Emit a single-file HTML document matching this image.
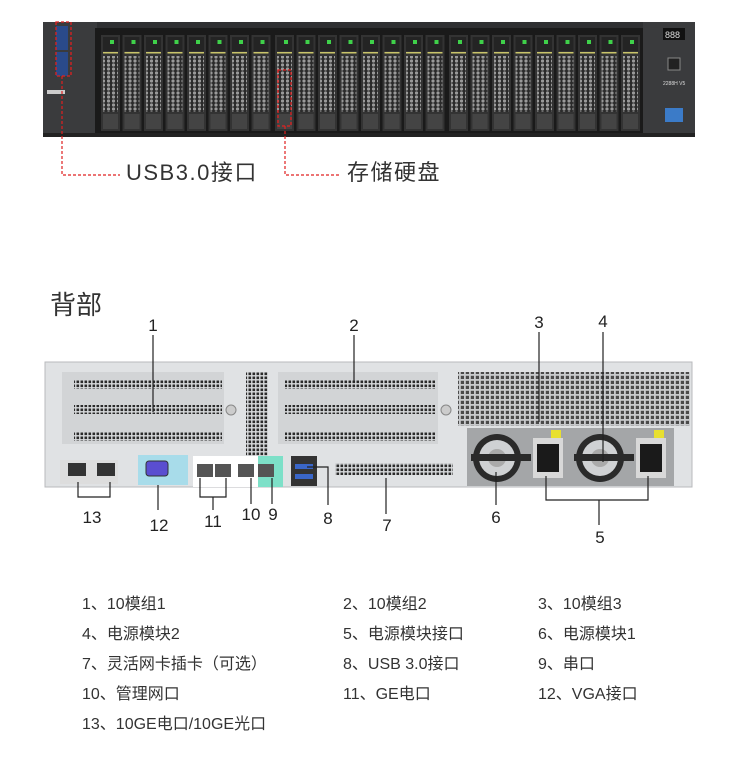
<!DOCTYPE html>
<html><head><meta charset="utf-8"><style>
html,body{margin:0;padding:0;background:#fff;width:750px;height:765px;overflow:hidden}
svg{display:block}
text{font-family:"Liberation Sans","Noto Sans CJK SC",sans-serif}
</style></head><body>
<svg width="750" height="765" viewBox="0 0 750 765" xmlns="http://www.w3.org/2000/svg">
<defs>
<pattern id="hex" width="5" height="4" patternUnits="userSpaceOnUse">
<rect width="5" height="4" fill="#2a2a2a"/><circle cx="2.5" cy="2" r="1.6" fill="#9a9a9a"/>
</pattern>
<pattern id="vent" width="4" height="4" patternUnits="userSpaceOnUse">
<rect width="4" height="4" fill="#d8dadc"/><rect x="0.5" y="0.5" width="2.6" height="2.6" fill="#2a2a2a"/>
</pattern>
<pattern id="grid" width="5" height="5" patternUnits="userSpaceOnUse">
<rect width="5" height="5" fill="#c8cacc"/><rect x="0.8" y="0.8" width="3.2" height="3.2" fill="#4a4a4a"/>
</pattern>
<g id="d">
<rect x="0" y="0" width="19" height="96" fill="#333"/>
<rect x="2" y="2" width="15" height="14" fill="#242424"/>
<rect x="9" y="5" width="4" height="4" fill="#3fd14a"/>
<rect x="2" y="17" width="15" height="1.5" fill="#c9c46a"/>
<rect x="2" y="21" width="15" height="56" fill="url(#hex)"/>
<rect x="2" y="79" width="15" height="15" fill="#444"/>
</g>
<g id="psu">
<rect x="0" y="0" width="104" height="58" fill="#a4a6a8"/>
<circle cx="30" cy="30" r="24" fill="#2a2a2a"/>
<circle cx="30" cy="30" r="18" fill="#cfd1d3"/>
<circle cx="30" cy="30" r="9" fill="#aaa"/>
<rect x="4" y="26" width="60" height="7" fill="#2a2a2a"/>
<rect x="66" y="10" width="30" height="40" fill="#d8d8d8"/>
<rect x="70" y="16" width="22" height="28" fill="#1a1a1a"/>
<rect x="84" y="2" width="10" height="8" fill="#e8e030"/>
</g>
</defs>

<rect x="43" y="22" width="652" height="115" fill="#2f3032"/>
<rect x="43" y="22" width="54" height="115" fill="#3a3b3d"/>
<rect x="56" y="26" width="12" height="24" fill="#2a4a8a"/>
<rect x="56" y="52" width="12" height="24" fill="#2a4a8a"/>
<rect x="47" y="90" width="18" height="4" fill="#ccc"/>
<rect x="95" y="28" width="552" height="106" fill="#1a1a1a"/>
<rect x="643" y="22" width="52" height="115" fill="#3a3b3d"/>
<rect x="663" y="28" width="22" height="12" fill="#111"/>
<text x="665" y="38" font-size="9" fill="#ddd">888</text>
<rect x="668" y="58" width="12" height="12" fill="#222" stroke="#888"/>
<rect x="665" y="108" width="18" height="14" fill="#3b7bc8"/>
<text x="663" y="85" font-size="5" fill="#ddd">2288H V5</text>
<rect x="43" y="133" width="652" height="4" fill="#222"/>
<g>
<use href="#d" x="101" y="35"/><use href="#d" x="122.5" y="35"/><use href="#d" x="144" y="35"/><use href="#d" x="165.5" y="35"/><use href="#d" x="187" y="35"/><use href="#d" x="208.5" y="35"/><use href="#d" x="230" y="35"/><use href="#d" x="251.5" y="35"/>
<use href="#d" x="275" y="35"/><use href="#d" x="296.5" y="35"/><use href="#d" x="318" y="35"/><use href="#d" x="339.5" y="35"/><use href="#d" x="361" y="35"/><use href="#d" x="382.5" y="35"/><use href="#d" x="404" y="35"/><use href="#d" x="425.5" y="35"/>
<use href="#d" x="449" y="35"/><use href="#d" x="470.5" y="35"/><use href="#d" x="492" y="35"/><use href="#d" x="513.5" y="35"/><use href="#d" x="535" y="35"/><use href="#d" x="556.5" y="35"/><use href="#d" x="578" y="35"/><use href="#d" x="599.5" y="35"/><use href="#d" x="621" y="35"/>
</g>
<rect x="56" y="22" width="15" height="54" fill="none" stroke="#e02020" stroke-width="1.3" stroke-dasharray="3,2"/>
<polyline points="62,76 62,175 120,175" fill="none" stroke="#e02020" stroke-width="1.2" stroke-dasharray="3,2"/>
<rect x="278" y="70" width="13" height="56" fill="none" stroke="#e02020" stroke-width="1.3" stroke-dasharray="3,2"/>
<polyline points="285,126 285,175 340,175" fill="none" stroke="#e02020" stroke-width="1.2" stroke-dasharray="3,2"/>
<text x="126" y="180" font-size="22" fill="#333" letter-spacing="1.5">USB3.0接口</text>
<text x="347" y="180" font-size="22" fill="#333" letter-spacing="1.5">存储硬盘</text>

<text x="50" y="314" font-size="26" fill="#333">背部</text>

<rect x="45" y="362" width="647" height="125" fill="#e0e2e4" stroke="#b8babc"/>
<rect x="62" y="372" width="162" height="72" fill="#d2d4d6"/>
<rect x="74" y="380" width="148" height="9" fill="url(#vent)"/>
<rect x="74" y="405" width="148" height="9" fill="url(#vent)"/>
<rect x="74" y="432" width="148" height="9" fill="url(#vent)"/>
<rect x="246" y="372" width="22" height="85" fill="url(#vent)"/>
<rect x="278" y="372" width="160" height="72" fill="#d2d4d6"/>
<rect x="285" y="380" width="150" height="9" fill="url(#vent)"/>
<rect x="285" y="405" width="150" height="9" fill="url(#vent)"/>
<rect x="285" y="432" width="150" height="9" fill="url(#vent)"/>
<circle cx="231" cy="410" r="5" fill="#ccc" stroke="#888"/>
<circle cx="446" cy="410" r="5" fill="#ccc" stroke="#888"/>
<rect x="458" y="372" width="232" height="54" fill="url(#grid)"/>
<use href="#psu" x="467" y="428"/>
<use href="#psu" x="570" y="428"/>
<rect x="60" y="460" width="58" height="24" fill="#ddd"/>
<rect x="68" y="463" width="18" height="13" fill="#333"/><rect x="97" y="463" width="18" height="13" fill="#333"/>
<rect x="138" y="455" width="50" height="30" fill="#a8dcea"/>
<rect x="146" y="461" width="22" height="15" rx="3" fill="#5a4ed0" stroke="#333"/>
<rect x="193" y="456" width="90" height="31" fill="#fff"/>
<rect x="258" y="456" width="25" height="31" fill="#7de0c8"/>
<rect x="197" y="464" width="16" height="13" fill="#555"/><rect x="215" y="464" width="16" height="13" fill="#555"/><rect x="238" y="464" width="16" height="13" fill="#555"/><rect x="258" y="464" width="16" height="13" fill="#555"/>
<rect x="291" y="456" width="26" height="30" fill="#333"/>
<rect x="295" y="464" width="18" height="5" fill="#3a66c8"/><rect x="295" y="474" width="18" height="5" fill="#3a66c8"/>
<rect x="335" y="463" width="118" height="12" fill="url(#vent)"/>

<g stroke="#222" stroke-width="1.2" fill="none">
<line x1="153" y1="335" x2="153" y2="412"/>
<line x1="354" y1="335" x2="354" y2="382"/>
<line x1="539" y1="332" x2="539" y2="422"/>
<line x1="603" y1="332" x2="603" y2="462"/>
<polyline points="78,482 78,497 110,497 110,482"/>
<line x1="158" y1="485" x2="158" y2="510"/>
<polyline points="200,478 200,497 226,497 226,478"/>
<line x1="213" y1="497" x2="213" y2="510"/>
<line x1="251" y1="478" x2="251" y2="504"/>
<line x1="272" y1="478" x2="272" y2="504"/>
<polyline points="307,467 328,467 328,505"/>
<line x1="386" y1="478" x2="386" y2="514"/>
<line x1="496" y1="472" x2="496" y2="505"/>
<polyline points="546,476 546,500 648,500 648,476"/>
<line x1="599" y1="500" x2="599" y2="525"/>
</g>
<g font-size="17" fill="#222" text-anchor="middle">
<text x="153" y="331">1</text><text x="354" y="331">2</text><text x="539" y="328">3</text><text x="603" y="327">4</text>
<text x="92" y="523">13</text><text x="159" y="531">12</text><text x="213" y="527">11</text><text x="251" y="520">10</text><text x="273" y="520">9</text><text x="328" y="524">8</text><text x="387" y="531">7</text><text x="496" y="523">6</text><text x="600" y="543">5</text>
</g>

<g font-size="16" fill="#333">
<text x="82" y="609">1、10模组1</text><text x="343" y="609">2、10模组2</text><text x="538" y="609">3、10模组3</text>
<text x="82" y="639">4、电源模块2</text><text x="343" y="639">5、电源模块接口</text><text x="538" y="639">6、电源模块1</text>
<text x="82" y="669">7、灵活网卡插卡（可选）</text><text x="343" y="669">8、USB 3.0接口</text><text x="538" y="669">9、串口</text>
<text x="82" y="699">10、管理网口</text><text x="343" y="699">11、GE电口</text><text x="538" y="699">12、VGA接口</text>
<text x="82" y="729">13、10GE电口/10GE光口</text>
</g>
</svg>
</body></html>
